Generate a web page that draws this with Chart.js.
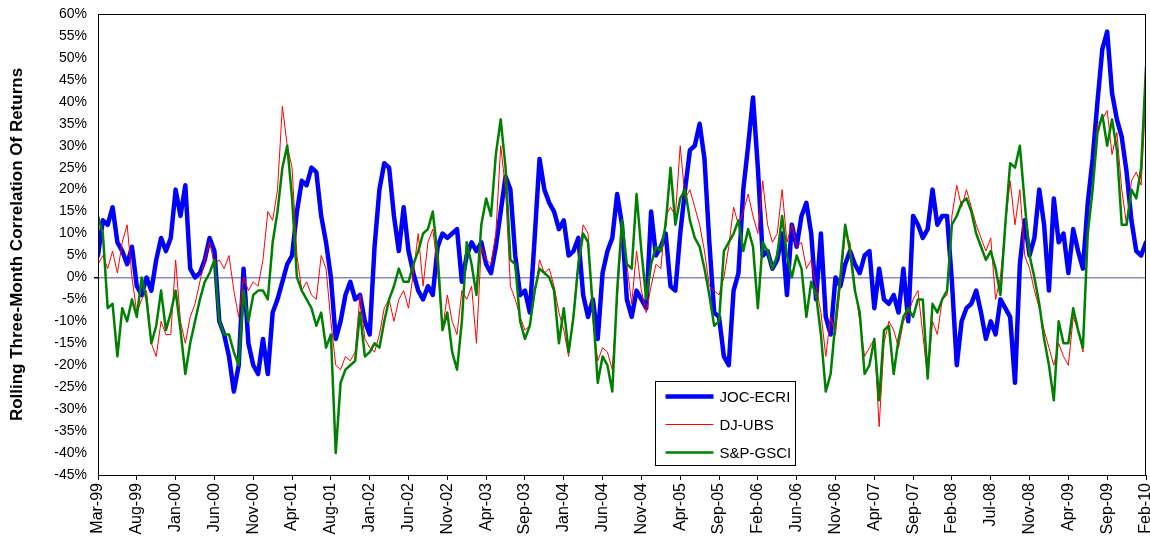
<!DOCTYPE html>
<html>
<head>
<meta charset="utf-8">
<script src="https://cdn.jsdelivr.net/npm/chart.js@4.4.1/dist/chart.umd.min.js"></script>
<style>
  html, body { margin: 0; padding: 0; background: #fff; }
  #wrap { width: 1150px; height: 546px; position: relative; }
</style>
</head>
<body>
<div id="wrap"><canvas id="c" width="1150" height="546"></canvas></div>
<script>
// Date labels shown on the x axis; observations are spaced evenly between them.
const xLabels = ['Mar-99', 'Aug-99', 'Jan-00', 'Jun-00', 'Nov-00', 'Apr-01', 'Aug-01', 'Jan-02',
  'Jun-02', 'Nov-02', 'Apr-03', 'Sep-03', 'Jan-04', 'Jun-04', 'Nov-04', 'Apr-05', 'Sep-05',
  'Feb-06', 'Jun-06', 'Nov-06', 'Apr-07', 'Sep-07', 'Feb-08', 'Jul-08', 'Nov-08', 'Apr-09',
  'Sep-09', 'Feb-10'];
const samplesPerLabel = 8;

const seriesNames = ['JOC-ECRI', 'DJ-UBS', 'S&P-GSCI'];

// Rolling three-month correlation of returns, in percent
const jocEcri = [
  5, 13, 12, 16, 8, 6, 3, 7, -2, -4, 0, -3, 4, 9, 6, 9, 20, 14, 21,
  2, 0, 1, 4, 9, 6, -10, -13, -18, -26, -20, 2, -15, -20, -22, -14, -22, -8,
  -5, -1, 3, 5, 15, 22, 21, 25, 24, 14, 8, 0, -14, -10, -4, -1, -5, -4,
  -10, -13, 7, 20, 26, 25, 14, 6, 16, 6, 1, -3, -5, -2, -4, 7, 10, 9,
  10, 11, -1, 5, 8, 6, 8, 3, 1, 7, 15, 23, 20, 5, -4, -3, -8, 9,
  27, 20, 17, 15, 11, 13, 5, 6, 9, -4, -9, -5, -14, 1, 6, 9, 19, 12,
  -5, -9, -3, -5, -7, 15, 5, 7, 10, -2, -3, 10, 20, 29, 30, 35, 27, 8,
  -8, -9, -18, -20, -3, 1, 20, 30, 41, 25, 5, 6, 2, 4, 10, -4, 12, 7,
  14, 17, 10, -5, 10, -9, -13, 0, -2, 3, 6, 3, 1, 5, 6, -7, 2, -5,
  -6, -4, -8, 2, -10, 14, 12, 9, 11, 20, 12, 14, 14, -1, -20, -10, -7, -6, -3,
  -8, -14, -10, -13, -5, -7, -9, -24, 3, 13, 5, 9, 20, 12, -3, 18, 8, 10,
  1, 11, 6, 2, 17, 27, 40, 52, 56, 42, 36, 32, 24, 13, 6, 5, 8
];

const djUbs = [
  3, 5, 2, 6, 1, 8, 12, 0, -8, -5, -3, -15, -18, -10, -13, -13, 4, -10, -15,
  -9, -6, -1, 4, 8, 3, 4, 2, 5, -3, -9, 0, -3, -1, -2, 4, 15, 13,
  20, 39, 30, 25, 5, -3, -1, -4, -5, 5, 2, -10, -20, -21, -18, -19, -17, -4,
  -14, -16, -17, -13, -7, -5, -10, -5, -3, -7, 1, 10, -2, 8, 11, 2, -12, -4,
  -10, -13, -3, -5, -2, -15, 7, 4, 3, 10, 30, 20, -2, -5, -9, -12, -11, -4,
  4, 1, 2, -2, -8, -12, -18, -8, 4, 12, 10, -10, -19, -16, -17, -21, -5, 11,
  3, -6, 6, -3, -8, -2, 3, 2, 14, 16, 14, 30, 18, 20, 16, 12, 6, -2,
  -3, -4, 0, 7, 16, 12, 15, 19, 14, 10, 22, 12, 8, 10, 20, 8, 12, 7,
  8, 2, 4, -2, -8, -18, -9, -13, -2, 10, 8, -2, -10, -18, -16, -14, -34, -15,
  -10, -12, -16, -10, -8, -5, -3, -13, -23, -10, -13, -5, -4, 14, 21, 16, 20, 16, 12,
  9, 6, 9, -5, 0, 12, 22, 12, 20, 5, 2, -3, -7, -12, -16, -20, -15, -18,
  -20, -9, -12, -17, 10, 21, 35, 36, 38, 28, 33, 20, 12, 22, 24, 21, 42
];

const spGsci = [
  14, 10, -7, -6, -18, -7, -10, -5, -9, 0, -5, -15, -11, -3, -12, -8, -3, -12, -22,
  -15, -10, -5, -1, 1, 4, -10, -13, -13, -17, -20, -3, -10, -4, -3, -3, -5, 8,
  15, 25, 30, 18, 0, -3, -5, -7, -11, -8, -16, -13, -40, -24, -21, -20, -19, -8,
  -18, -17, -15, -16, -10, -5, -2, 2, -1, -1, 3, 6, 10, 11, 15, 5, -12, -8,
  -17, -21, -10, 8, 3, -4, 12, 18, 14, 28, 36, 25, 4, 3, -10, -14, -11, -3,
  2, 1, 0, -3, -15, -7, -17, -9, 3, 10, 8, -7, -24, -18, -20, -26, -3, 13,
  3, 2, 19, 6, -5, 3, 7, 6, 12, 25, 12, 18, 20, 13, 9, 7, 2, -4,
  -11, -10, 6, 8, 10, 13, 6, 11, 7, -7, 8, 6, 2, 5, 14, 5, 0, 5,
  2, -9, -1, -4, -13, -26, -22, -10, 0, 12, 6, -3, -8, -22, -20, -14, -28, -12,
  -11, -22, -14, -9, -7, -9, -5, -5, -23, -6, -8, -5, -3, 12, 14, 17, 18, 15, 10,
  7, 4, 6, 2, -4, 12, 26, 25, 30, 17, 5, 0, -6, -14, -20, -28, -10, -15,
  -15, -7, -12, -16, 10, 20, 33, 37, 30, 36, 29, 12, 12, 20, 18, 25, 48
];

const yMin = -45, yMax = 60, yStep = 5;

const FONT = "'Liberation Sans', Arial, sans-serif";

function toPoints(values) {
  return values.map((v, i) => ({ x: i, y: v }));
}

// Plot-area frame
const framePlugin = {
  id: 'frame',
  afterDatasetsDraw(chart) {
    const { ctx, chartArea: a } = chart;
    ctx.save();
    ctx.strokeStyle = '#000';
    ctx.lineWidth = 1;
    ctx.strokeRect(a.left + 0.5, a.top + 0.5, a.right - a.left - 1, a.bottom - a.top);
    ctx.restore();
  }
};

// Boxed legend in the lower middle of the plot
const legendPlugin = {
  id: 'boxLegend',
  afterDraw(chart) {
    const { ctx } = chart;
    const bx = 655.5, by = 381.5, bw = 140, bh = 84;
    ctx.save();
    ctx.fillStyle = '#fff';
    ctx.fillRect(bx, by, bw, bh);
    ctx.strokeStyle = '#000';
    ctx.lineWidth = 1;
    ctx.strokeRect(bx, by, bw, bh);
    ctx.font = '15px ' + FONT;
    ctx.textBaseline = 'middle';
    ctx.textAlign = 'left';
    chart.data.datasets.forEach((ds, i) => {
      const y = by + 15 + i * 28;
      ctx.strokeStyle = ds.borderColor;
      ctx.lineWidth = ds.borderWidth;
      ctx.beginPath();
      ctx.moveTo(bx + 10, y);
      ctx.lineTo(bx + 58, y);
      ctx.stroke();
      ctx.fillStyle = '#000';
      ctx.fillText(ds.label, bx + 64, y + 1);
    });
    ctx.restore();
  }
};

const maxIndex = (xLabels.length - 1) * samplesPerLabel;

new Chart(document.getElementById('c'), {
  type: 'line',
  data: {
    datasets: [
      { label: seriesNames[0], data: toPoints(jocEcri), borderColor: '#0000FF', borderWidth: 4.5, order: 2 },
      { label: seriesNames[1], data: toPoints(djUbs), borderColor: '#FF0000', borderWidth: 1, order: 1 },
      { label: seriesNames[2], data: toPoints(spGsci), borderColor: '#008000', borderWidth: 2.5, order: 0 }
    ]
  },
  options: {
    responsive: false,
    animation: false,
    elements: {
      point: { radius: 0 },
      line: { tension: 0, borderJoinStyle: 'round', borderCapStyle: 'round' }
    },
    layout: { padding: { top: 14, right: 4, left: 0, bottom: 0 } },
    plugins: {
      legend: { display: false },
      tooltip: { enabled: false }
    },
    scales: {
      x: {
        type: 'linear',
        min: 0,
        max: maxIndex,
        afterFit(scale) {
          scale.height = 71;
          scale.paddingLeft = 0;
          scale.paddingRight = 0;
        },
        afterBuildTicks(scale) {
          scale.ticks = xLabels.map((_, k) => ({ value: k * samplesPerLabel }));
        },
        ticks: {
          autoSkip: false,
          minRotation: 90,
          maxRotation: 90,
          padding: 3,
          color: '#000',
          font: { family: FONT, size: 16 },
          callback: (v) => xLabels[Math.round(v / samplesPerLabel)]
        },
        grid: { drawOnChartArea: false, tickLength: 5, tickColor: '#000' },
        border: { display: true, color: '#000', width: 1 }
      },
      y: {
        min: yMin,
        max: yMax,
        afterFit(scale) {
          scale.width = 98;
          scale.paddingTop = 0;
          scale.paddingBottom = 0;
        },
        ticks: {
          stepSize: yStep,
          padding: 7,
          color: '#000',
          font: { family: FONT, size: 14 },
          callback: (v) => v + '%'
        },
        grid: {
          drawOnChartArea: true,
          tickLength: 4,
          tickColor: '#000',
          lineWidth: (c) => (c.tick && c.tick.value === 0 ? 1.5 : 0),
          color: (c) => (c.tick && c.tick.value === 0 ? '#8c8cb8' : 'rgba(0,0,0,0)')
        },
        border: { display: true, color: '#000', width: 1 },
        title: {
          display: true,
          text: 'Rolling Three-Month Correlation Of Returns',
          color: '#000',
          font: { family: FONT, size: 17, weight: 'bold' },
          padding: { top: 7, bottom: 2 }
        }
      }
    }
  },
  plugins: [framePlugin, legendPlugin]
});
</script>
</body>
</html>
